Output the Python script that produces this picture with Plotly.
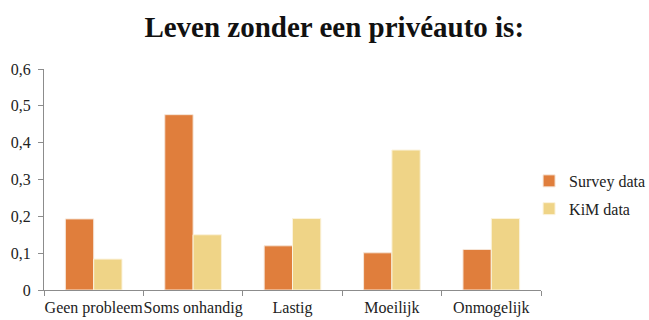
import plotly.graph_objects as go

categories = ["Geen probleem", "Soms onhandig", "Lastig", "Moeilijk", "Onmogelijk"]
survey = [0.193, 0.476, 0.120, 0.101, 0.110]
kim = [0.084, 0.150, 0.194, 0.380, 0.194]
y_ticks = [0, 0.1, 0.2, 0.3, 0.4, 0.5, 0.6]
y_tick_text = ["0", "0,1", "0,2", "0,3", "0,4", "0,5", "0,6"]

FONT = "Liberation Serif"

fig = go.Figure()
fig.add_trace(go.Bar(x=categories, y=survey, name="Survey data", legendgroup="s",
                     marker=dict(color="#E07E3C", line=dict(color="#F6E6D8", width=1))))
fig.add_trace(go.Bar(x=categories, y=kim, name="KiM data", legendgroup="k",
                     marker=dict(color="#EFD487", line=dict(color="#FBF3DD", width=1))))

fig.update_layout(
    width=649, height=320,
    margin=dict(l=44, r=108, t=69, b=30, autoexpand=False),
    paper_bgcolor="white", plot_bgcolor="white",
    barmode="group", bargap=0.43, bargroupgap=0,
    separators=",.",
    font=dict(family=FONT, size=16, color="#222"),
    title=dict(text="<b>Leven zonder een privéauto is:</b>", x=0.515, xanchor="center",
               y=0.915, yanchor="middle", font=dict(family=FONT, size=29, color="#111")),
    legend=dict(x=0.976, xanchor="left", y=0.43, yanchor="middle",
                font=dict(family=FONT, size=16, color="#222"),
                itemwidth=30, tracegroupgap=4, bgcolor="rgba(0,0,0,0)"),
    showlegend=True,
)
fig.update_xaxes(showline=True, linecolor="#8c8c8c", linewidth=1, tickangle=0, automargin=False,
                 ticks="outside", tickson="boundaries", ticklen=5, tickcolor="#8c8c8c",
                 ticklabelstandoff=3,
                 tickfont=dict(family=FONT, size=16, color="#222"), showgrid=False)
fig.update_yaxes(range=[0, 0.6], tickvals=y_ticks, ticktext=y_tick_text, automargin=False,
                 showline=True, linecolor="#8c8c8c", linewidth=1,
                 ticks="outside", ticklen=5, tickcolor="#8c8c8c", showgrid=False, zeroline=False,
                 ticklabelstandoff=4,
                 tickfont=dict(family=FONT, size=16, color="#222"))

fig.write_html("out.html")
